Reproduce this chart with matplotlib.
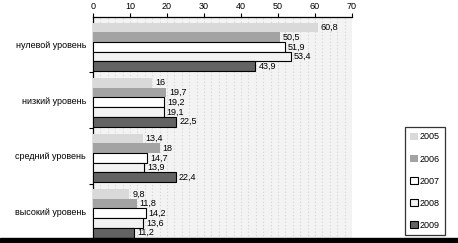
import matplotlib.pyplot as plt
import numpy as np
from matplotlib.patches import Rectangle

categories = ["нулевой уровень", "низкий уровень", "средний уровень", "высокий уровень"]
years = ["2005", "2006", "2007", "2008", "2009"]
values = {
    "2005": [60.8, 16, 13.4, 9.8],
    "2006": [50.5, 19.7, 18, 11.8],
    "2007": [51.9, 19.2, 14.7, 14.2],
    "2008": [53.4, 19.1, 13.9, 13.6],
    "2009": [43.9, 22.5, 22.4, 11.2],
}
colors = ["#d9d9d9", "#a3a3a3", "#ffffff", "#f2f2f2", "#636363"]
edges = ["none", "none", "black", "black", "black"]

plt.rcParams['font.family'] = ['Liberation Sans', 'DejaVu Sans']

fig = plt.figure(figsize=(4.58, 2.43), dpi=100)
ax = fig.add_axes([93 / 458, 4 / 243, (352 - 93) / 458, (239 - 17) / 243])
ax.set_facecolor("#f3f3f3")

bh = 0.175
y0 = np.arange(len(categories))
for i, yr in enumerate(years):
    pos = y0 - 0.42 + bh * (i + 0.5) + 0.02
    ax.barh(pos, values[yr], height=bh, color=colors[i], edgecolor=edges[i],
            linewidth=0.8, label=yr, zorder=3)
    for p, v in zip(pos, values[yr]):
        ax.text(v + 0.8, p, ("%g" % v).replace(".", ","), va="center", ha="left",
                fontsize=6.5, zorder=4)

ax.set_xlim(0, 70)
ax.set_ylim(3.5, -0.5)
ax.xaxis.tick_top()
ax.set_xticks(np.arange(0, 71, 10))
ax.set_xticks(np.arange(0, 71, 2), minor=True)
ax.tick_params(axis="x", which="major", labelsize=6.5, length=3, width=0.8, pad=1)
ax.tick_params(axis="x", which="minor", length=0)
ax.grid(axis="x", which="both", color="#d4d4d4", linestyle=(0, (1, 2)), linewidth=0.8, zorder=0)

ax.set_yticks(y0)
ax.set_yticklabels(categories, fontsize=6.5)
ax.set_yticks(np.arange(0.5, 3.5, 1), minor=True)
ax.tick_params(axis="y", which="major", length=0, pad=5)
ax.tick_params(axis="y", which="minor", length=3, width=0.8)

for s in ["right", "bottom"]:
    ax.spines[s].set_visible(False)
ax.spines["top"].set_linewidth(0.9)
ax.spines["left"].set_linewidth(0.9)

leg = ax.legend(loc="upper left", bbox_to_anchor=(405 / 458, 1 - 127 / 243),
                bbox_transform=fig.transFigure, fontsize=6.5, frameon=True,
                fancybox=False, edgecolor="black", handlelength=0.8, handleheight=0.8,
                handletextpad=0.2, labelspacing=1.45, borderpad=0.6, borderaxespad=0)
leg.get_frame().set_linewidth(0.9)

fig.patches.append(Rectangle((0, 0), 1, 5 / 243, transform=fig.transFigure,
                             color="black", zorder=10))

fig.savefig("out.png", dpi=100)
